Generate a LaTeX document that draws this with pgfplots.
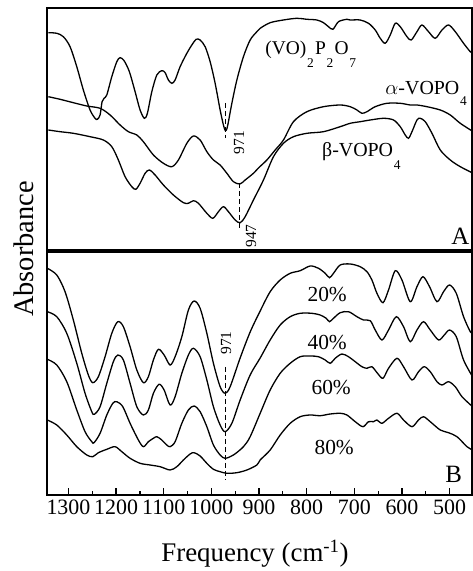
\documentclass[border=0pt]{standalone}
\usepackage{fontspec}
\setmainfont{Liberation Serif}
\usepackage{pgfplots}
\pgfplotsset{compat=1.18}
\newcommand{\fs}[1]{\fontsize{#1}{#1}\selectfont}
\newcommand{\sub}[2][12]{\kern0.8bp\raisebox{-#1bp}{\fs{13.5}#2}\kern1.2bp}
\pgfplotsset{
  panel/.style={
    scale only axis, width=425bp, x dir=reverse, xmin=453, xmax=1345,
    axis line style={line width=1.7bp}, ytick=\empty,
    every axis plot/.append style={line width=1.3bp, black, smooth, tension=0.5, mark=none},
  },
  spec/.style={line width=1.3bp, black, smooth, tension=0.5},
  dline/.style={line width=1bp, black, sharp plot, dash pattern=on 5bp off 3bp},
}
\begin{document}
\begin{tikzpicture}
\useasboundingbox (0,0) rectangle (473bp,571bp);
% ---------------- Panel A ----------------
\begin{axis}[panel, at={(47bp,320.7bp)}, anchor=south west, height=242.3bp,
  ymin=0.7, ymax=243, xtick=\empty]
% (VO)2P2O7
\addplot[spec] coordinates {
(1342.2,218.3) (1324.5,217.7) (1310.7,214.3) (1296.6,204.3) (1282.5,184.3)
(1268.7,161) (1254.6,141) (1244.1,132.7) (1239.3,131.7) (1233.6,136)
(1229.4,149.3) (1225.2,152.7) (1219.5,156) (1209,174.3) (1198.5,189.3)
(1191.6,193.3) (1183.2,190.3) (1172.1,179.3) (1160.1,159.3) (1149.6,141)
(1140.6,132.7) (1134.3,137.7) (1125,159.3) (1114.5,176) (1104,180.3)
(1097.1,178.3) (1090.2,171) (1083,167.7) (1076.1,171) (1065.6,184.3)
(1051.5,197.7) (1041,206) (1032,211.7) (1023.6,211) (1013.1,204.3)
(1002.6,189.3) (992.1,167.7) (981.6,141) (974.7,126) (970.5,120.3)
(966.3,124.3) (957,147.7) (946.5,171) (932.7,194.3) (918.6,211)
(904.5,219.3) (897.6,222.7) (876.6,228.3) (848.7,231) (820.5,232.7)
(799.5,231.7) (778.5,231) (764.7,228.3) (754.2,224.3) (744.9,221.7)
(733.2,229.3) (715.5,231.7) (708.6,231) (687.6,231) (670.2,227.7)
(656.1,221) (645.6,212.7) (635.1,207.7) (624.6,216) (614.1,227.7)
(603.6,224.3) (589.5,214.3) (580.5,211) (568.5,219.3) (558,226)
(544.2,219.3) (530.1,212.7) (516,221) (502.2,226) (488.1,219.3)
(470.7,207.7) (456.6,199.3) (450.3,197.7)
};
% alpha-VOPO4
\addplot[spec] coordinates {
(1342.2,154.3) (1317.6,151.7) (1289.7,148.3) (1261.5,145) (1233.6,142.7)
(1212.6,136) (1191.6,126) (1174.2,119.3) (1156.5,116) (1142.7,109.3)
(1121.7,96) (1100.7,87.7) (1083,84.3) (1069.2,91) (1051.5,107.7)
(1037.7,115) (1023.6,111) (1009.5,99.3) (995.7,91) (981.6,86)
(967.5,77.7) (953.7,69.3) (940.1,67) (929.1,71) (911.7,77.7)
(901.2,83) (883.5,91) (866.1,101) (848.7,111) (827.7,129.3)
(799.5,139.3) (764.7,144.3) (729.6,146) (708.6,144.3) (694.5,141)
(684,137.7) (673.5,139.3) (656.1,144.3) (631.5,147.7) (603.6,147.7)
(582.6,146) (568.5,146) (547.5,144.3) (519.6,141) (498.6,136)
(477.6,127.7) (450.3,119.3)
};
% beta-VOPO4
\addplot[spec] coordinates {
(1342.2,121) (1317.6,119.3) (1289.7,117.7) (1254.6,114.3) (1226.7,111)
(1209,104.3) (1195.2,91) (1181.1,74.3) (1167,64.3) (1158.6,61.7)
(1149.6,67.7) (1139.1,77.7) (1130.1,81) (1118.1,76) (1100.7,66)
(1079.7,56) (1058.7,48.3) (1048.2,47.7) (1037.7,50.3) (1027.2,47.7)
(1009.5,37.7) (996.9,32.7) (985.2,39.3) (974.7,44.3) (964.2,39.3)
(950.1,31) (939.6,28.3) (929.1,34.3) (911.7,51) (890.7,71)
(869.7,94.3) (848.7,107.7) (827.7,114.3) (799.5,117.7) (764.7,119.3)
(729.6,124.3) (708.6,127.7) (687.6,129.3) (666.6,131) (638.7,132.7)
(617.7,131) (603.6,124.3) (593.1,116) (586.2,112.7) (579,119.3)
(568.5,131) (561.6,132.7) (551.1,129.3) (537,117.7) (519.6,101)
(498.6,91) (477.6,84.3) (450.3,77.7)
};
% marker lines
\addplot[dline] coordinates {(971,148) (971,113)};
\addplot[dline] coordinates {(940,68) (940,21)};
\node[anchor=base west, inner sep=0] at (axis cs:887,196)
  {\fs{19.5}(VO)\sub[13]{2}P\sub[13]{2}O\sub[13]{7}};
\node[anchor=base west, inner sep=0] at (axis cs:635,156)
  {\fs{20}$\alpha$-VOPO\sub[11]{4}};
\node[anchor=base west, inner sep=0] at (axis cs:768,94.3)
  {\fs{20}β-VOPO\sub[13]{4}};
\node[rotate=90, inner sep=0, font=\fs{15.5}] at (axis cs:941.7,108.5) {971};
\node[rotate=90, inner sep=0, font=\fs{15.5}] at (axis cs:916.5,15) {947};
\node[anchor=base, inner sep=0, font=\fs{25}] at (axis cs:477.6,6) {A};
\end{axis}
% ---------------- Panel B ----------------
\begin{axis}[panel, at={(47bp,76bp)}, anchor=south west, height=243.3bp,
  ymin=0, ymax=243.3,
  xtick={500,600,...,1300}, minor x tick num=1, xtick pos=left,
  tick align=inside, major tick length=7bp, minor tick length=4bp,
  tick style={line width=1.2bp, black},
  /pgf/number format/assume math mode=true, /pgf/number format/1000 sep={},
  xticklabel style={font=\fs{22}, yshift=-1.5bp},
  xlabel={Frequency (cm\textsuperscript{-1})},
  xlabel style={font=\fs{27}, at={(axis description cs:0.4894,-0.2713)}, anchor=base},
  ylabel={Absorbance},
  ylabel style={font=\fs{28.5}, at={(axis description cs:-0.0322,1.011)}, anchor=base, rotate=0},
]
% 20%
\addplot[spec] coordinates {
(1344.3,226.7) (1324.5,220) (1307.1,203.3) (1289.7,175) (1272,141.7)
(1258.2,120) (1248.9,112.3) (1237.2,118.3) (1223.1,138.3) (1209,161.7)
(1196.4,173.3) (1184.7,168.3) (1170.6,148.3) (1156.5,125) (1142.7,112.3)
(1132.2,118.3) (1121.7,135) (1111.2,145.7) (1099.2,140) (1086.6,130)
(1076.1,138.3) (1062,158.3) (1048.2,185) (1036.2,194) (1023.6,186.7)
(1009.5,161.7) (995.7,131.7) (981.6,108.3) (971.1,101.7) (960.6,108.3)
(939.6,137) (918.6,163) (897.6,184) (876.6,203.3) (855.6,215)
(834.6,221.7) (813.6,224.3) (792.6,229) (775.2,226.7) (761.1,221.7)
(752.1,217.3) (743.7,221.7) (729.6,230) (708.6,231) (687.6,228.3)
(673.5,223.3) (663,215) (652.5,201.7) (639.9,192.3) (628.2,205)
(614.1,224.3) (600,215) (582.6,193.3) (568.5,208.3) (555.9,218.3)
(542.1,208.3) (526.5,193.3) (512.7,203.3) (500.1,210) (486,201.7)
(470.7,178.3) (456.6,163.3) (451.8,161.7)
};
% 40%
\addplot[spec] coordinates {
(1344.3,183.3) (1324.5,178.3) (1303.5,161.7) (1282.5,131.7) (1265.1,101.7)
(1251,83.3) (1245.6,80.7) (1233.6,88.3) (1219.5,111.7) (1205.7,133.3)
(1196.4,140) (1184.7,135) (1170.6,111.7) (1156.5,88.3) (1142.7,80)
(1132.2,85) (1121.7,101.7) (1109.7,110.7) (1099.2,105) (1086.6,90)
(1076.1,98.3) (1062,121.7) (1048.2,140) (1037.7,146.7) (1023.6,138.3)
(1009.5,115) (995.7,88.3) (981.6,70) (971.1,63.3) (957,71.7)
(939.6,95) (918.6,120) (897.6,137) (876.6,155) (855.6,170)
(834.6,178.3) (813.6,181.7) (789,181.7) (771.6,180) (759,176.7)
(752.1,173.3) (743.7,176.7) (729.6,182.3) (712.2,183.3) (694.5,178.3)
(680.7,175) (666.6,174.3) (656.1,165) (642,155) (628.2,165)
(612,178.3) (596.7,168.3) (582.6,153.3) (568.5,165) (554.7,173.3)
(540.6,165) (523.2,155) (511.2,160) (500.1,165) (486,158.3)
(470.7,135) (451.8,118.3)
};
% 60%
\addplot[spec] coordinates {
(1344.3,135.7) (1324.5,130) (1303.5,113.3) (1282.5,85) (1265.1,63.3)
(1251,53.3) (1246.2,52.3) (1233.6,61.7) (1219.5,80) (1206.9,91.7)
(1198.5,93.3) (1185.9,88.3) (1170.6,71.7) (1153.2,55) (1142.7,48.3)
(1132.2,53.3) (1121.7,56.7) (1114.5,58.3) (1104,55) (1093.5,50)
(1086.6,48.3) (1076.1,53.3) (1062,71.7) (1048.2,85) (1036.2,89)
(1023.6,83.3) (1009.5,68.3) (995.7,50) (981.6,40) (971.1,36.7)
(953.7,40) (932.7,48.3) (918.6,58.3) (897.6,81.7) (876.6,105)
(855.6,121.7) (834.6,131.7) (813.6,138.3) (792.6,139) (775.2,138.3)
(761.1,135) (750.6,131.7) (740.1,136.7) (726,141) (712.2,138.3)
(698.1,133.3) (684,128.3) (673.5,126.7) (663,128.3) (651.3,121.7)
(639.9,116.7) (628.2,126.7) (610.5,136.7) (596.7,128.3) (579,115)
(565.2,123.3) (553.2,128.3) (540.6,123.3) (526.5,113.3) (516,110)
(502.2,113.3) (488.1,108.3) (474,98.3) (451.8,88.3)
};
% 80%
\addplot[spec] coordinates {
(1344.3,75) (1324.5,70) (1303.5,60) (1282.5,48.3) (1261.5,40)
(1248.9,38.3) (1237.2,42.3) (1219.5,45.7) (1202.1,48.3) (1188,43.3)
(1170.6,36.7) (1149.6,31.7) (1128.6,30) (1107.6,28.3) (1086.6,25)
(1072.5,28.3) (1058.7,35) (1044.6,41) (1036.2,42.3) (1023.6,39)
(1009.5,31.7) (995.7,25.7) (981.6,23.3) (967.5,21.7) (946.5,22.3)
(925.5,25) (904.5,30) (897.6,35) (876.6,45) (855.6,60)
(834.6,71.7) (813.6,78.3) (792.6,80) (771.6,79.3) (750.6,81)
(729.6,81.7) (715.5,80) (698.1,73.3) (681.9,68.3) (670.2,73.3)
(659.7,73.3) (652.5,75) (642,71.7) (628.2,76.7) (610.5,81.7)
(596.7,75) (579,68.3) (565.2,75) (554.7,78.3) (540.6,73.3)
(519.6,65) (502.2,62.3) (484.5,58.3) (463.5,48.3) (451.8,45)
};
\addplot[dline] coordinates {(971,128) (971,15)};
\node[rotate=90, inner sep=0, font=\fs{15.5}] at (axis cs:969,152) {971};
\node[anchor=base, inner sep=0, font=\fs{21.5}] at (axis cs:756.9,193) {20\%};
\node[anchor=base, inner sep=0, font=\fs{21.5}] at (axis cs:756.9,145) {40\%};
\node[anchor=base, inner sep=0, font=\fs{21.5}] at (axis cs:748.5,100) {60\%};
\node[anchor=base, inner sep=0, font=\fs{21.5}] at (axis cs:742.2,40) {80\%};
\node[anchor=base, inner sep=0, font=\fs{25}] at (axis cs:491.6,13) {B};
\end{axis}
\end{tikzpicture}
\end{document}
